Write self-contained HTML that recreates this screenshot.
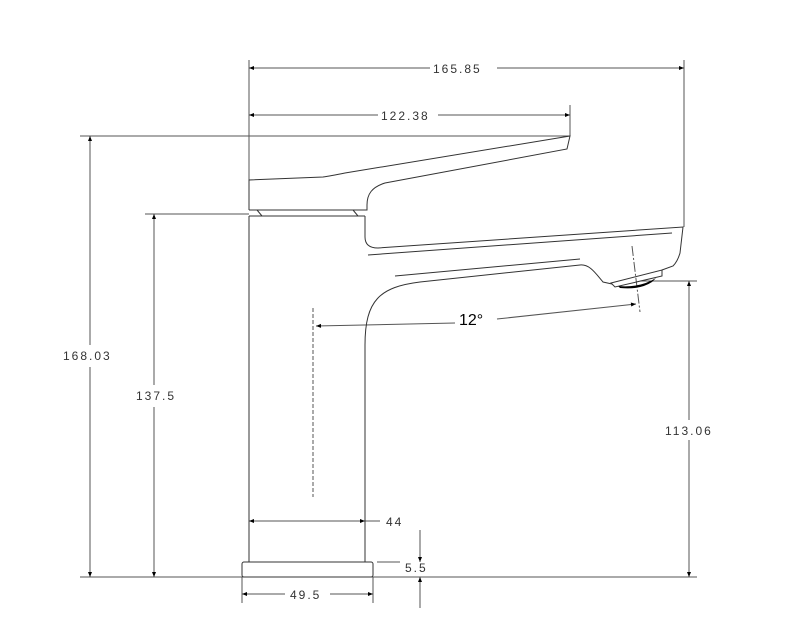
<!DOCTYPE html>
<html><head><meta charset="utf-8"><style>
html,body{margin:0;padding:0;background:#fff}
svg{display:block}
.d{font-family:"Liberation Sans",sans-serif;font-size:12px;fill:#333;letter-spacing:2px}
</style></head><body>
<svg width="796" height="634" viewBox="0 0 796 634" xmlns="http://www.w3.org/2000/svg">
<defs>
<marker id="a" viewBox="0 0 10 10" refX="10" refY="5" markerWidth="12" markerHeight="5" orient="auto-start-reverse" markerUnits="userSpaceOnUse"><path d="M0,1 L10,5 L0,9 z" fill="#000"/></marker>
</defs>
<g stroke="#555" stroke-width="1" fill="none">
<!-- extension lines -->
<line x1="249" y1="60" x2="249" y2="180"/>
<line x1="684" y1="60" x2="684" y2="227"/>
<line x1="570" y1="105" x2="570" y2="136"/>
<line x1="80" y1="136" x2="570" y2="136"/>
<line x1="145" y1="214" x2="249" y2="214"/>
<line x1="640" y1="281" x2="697" y2="281"/>
<line x1="80" y1="577" x2="697" y2="577"/>
<line x1="242" y1="577" x2="242" y2="603"/>
<line x1="373" y1="577" x2="373" y2="603"/>
<line x1="377" y1="562" x2="400" y2="562"/>
<!-- dims -->
<line x1="249" y1="68" x2="430" y2="68" marker-start="url(#a)"/>
<line x1="497" y1="68" x2="684" y2="68" marker-end="url(#a)"/>
<line x1="249" y1="115" x2="378" y2="115" marker-start="url(#a)"/>
<line x1="438" y1="115" x2="570" y2="115" marker-end="url(#a)"/>
<line x1="90" y1="136" x2="90" y2="345" marker-start="url(#a)"/>
<line x1="90" y1="367" x2="90" y2="577" marker-end="url(#a)"/>
<line x1="154" y1="214" x2="154" y2="385" marker-start="url(#a)"/>
<line x1="154" y1="407" x2="154" y2="577" marker-end="url(#a)"/>
<line x1="689" y1="281" x2="689" y2="420" marker-start="url(#a)"/>
<line x1="689" y1="440" x2="689" y2="577" marker-end="url(#a)"/>
<line x1="249" y1="521" x2="365" y2="521" marker-start="url(#a)" marker-end="url(#a)"/>
<line x1="365" y1="521" x2="380" y2="521"/>
<line x1="420" y1="530" x2="420" y2="562" marker-end="url(#a)"/>
<line x1="420" y1="608" x2="420" y2="577" marker-end="url(#a)"/>
<line x1="242" y1="594" x2="285" y2="594" marker-start="url(#a)"/>
<line x1="330" y1="594" x2="373" y2="594" marker-end="url(#a)"/>
<line x1="455" y1="323" x2="316" y2="326" marker-end="url(#a)"/>
<line x1="497" y1="319" x2="636" y2="304" marker-end="url(#a)"/>
<line x1="313" y1="308" x2="313" y2="497" stroke-dasharray="4,2"/>
<line x1="632" y1="246" x2="640" y2="312" stroke-dasharray="10,2,2,2"/>
</g>
<g stroke="#333" stroke-width="1" fill="none">
<!-- base -->
<rect x="242" y="562" width="131" height="15" rx="2"/>
<!-- body -->
<line x1="249" y1="216" x2="249" y2="562"/>
<line x1="249" y1="216" x2="365" y2="216"/>
<path d="M365,562 L365,345 C365,300 380,287 420,282 L580,265 C590,264 596,274 603,282 L612,284"/>
<!-- lever -->
<path d="M249,210 L249,180 L323,177 C330,176 335,175 345,173 L570,136 L567,149 L385,183 C372,187 367,194 367,205 L367,210 L249,210"/>
<path d="M257,210 L262,216 M353,210 L358,216"/>
<!-- spout upper -->
<path d="M365,216 L365,237 C365,245 370,248 378,248 L683,227 L680,253 C678,260 675,264 673,266 L662,270"/>
<line x1="368" y1="255" x2="672" y2="233"/>
<line x1="395" y1="276" x2="580" y2="259"/>
<!-- aerator -->
<path d="M611,283 L662,270 L662,276 L615,287 Z"/>
</g>
<path d="M618,286 Q640,288 656,278 L652,282 Q640,290 620,288 Z" fill="#000"/>
<g class="d">
<text x="433" y="73">165.85</text>
<text x="381" y="120">122.38</text>
<text x="63" y="360">168.03</text>
<text x="136" y="400">137.5</text>
<text x="665" y="435">113.06</text>
<text x="386" y="526">44</text>
<text x="405" y="572">5.5</text>
<text x="290" y="599">49.5</text>
</g>
<text x="459" y="325" font-family="Liberation Sans,sans-serif" font-size="16" fill="#000">12°</text>
</svg>
</body></html>
